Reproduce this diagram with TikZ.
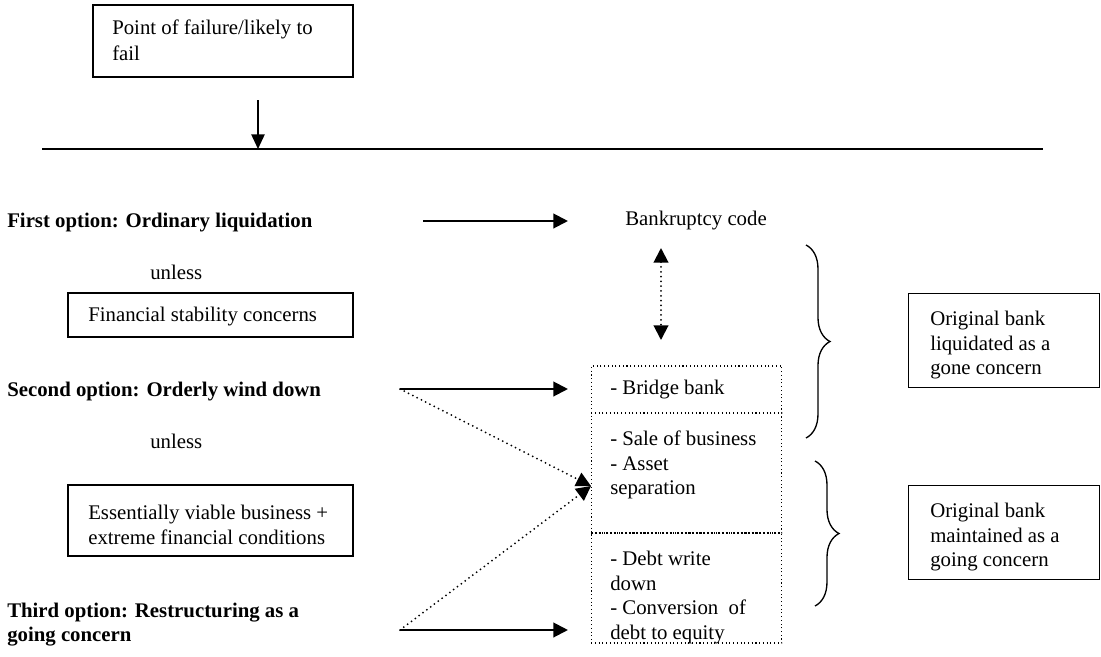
\documentclass[tikz,border=0pt]{standalone}
\usepackage{fontspec}
\setmainfont{Liberation Serif}
\usepackage{tikz}
\usetikzlibrary{arrows.meta}
\usetikzlibrary{decorations.pathreplacing}
\usetikzlibrary{positioning}

\tikzset{
	frame/.style={draw, line width=0.9pt, inner sep=0pt},
	section/.style={draw, line width=0.8pt, dotted, minimum width=143pt, inner sep=0pt},
	label/.style={inner sep=0pt, align=left},
	option/.style={label, font=\fontsize{15.6}{17.5}\selectfont\bfseries},
	solidarrow/.style={line width=1.6pt, -{Triangle[length=11pt, width=11pt]}},
	dotarrow/.style={line width=1.5pt, line cap=round, dash pattern=on 0pt off 3.6pt},
	curly/.style={decorate, line width=1pt, decoration={brace, amplitude=18pt}}
}

\begin{document}
\begin{tikzpicture}[x=0.75pt, y=-0.75pt, font=\fontsize{15.6}{18.4}\selectfont]
	\useasboundingbox (0,0) rectangle (1101,657);

	% Nodes
	\node[frame, minimum width=195pt, minimum height=54pt] (fail) at (223,41) {};
	\node[label, anchor=north west, font=\fontsize{15.6}{19.5}\selectfont] (failt) at (112,20) {Point of failure/likely to\\fail};

	\node[option, anchor=west] (first) at (7,223) {First option: Ordinary liquidation};
	\node[option, anchor=west] (second) at (7,392) {Second option: Orderly wind down};
	\node[option, anchor=north west] (third) at (7,603) {Third option: Restructuring as a\\going concern};

	\node[label, anchor=west] (unless1) at (150,272) {unless};
	\node[label, anchor=west] (unless2) at (150,441) {unless};

	\node[frame, minimum width=213.75pt, minimum height=33pt] (stability) at (210.5,315) {};
	\node[label, anchor=west] (stabilityt) at (88,317) {Financial stability concerns};
	\node[frame, minimum width=213.75pt, minimum height=53.25pt] (viable) at (210.5,520.5) {};
	\node[label, anchor=north west] (viablet) at (88,505) {Essentially viable business +\\extreme financial conditions};

	\node[label] (bank) at (696,221) {Bankruptcy code};

	\node[section, minimum height=35.25pt] (bridge) at (686.5,389.5) {};
	\node[section, minimum height=90pt] (sale) at (686.5,473) {};
	\node[section, minimum height=82.5pt] (debt) at (686.5,588) {};

	\node[label, anchor=west] (bridget) at (610,390) {- Bridge bank};
	\node[label, anchor=north west] (salet) at (610,431) {- Sale of business\\- Asset\\separation};
	\node[label, anchor=north west] (debtt) at (610,551) {- Debt write\\down\\- Conversion\ \ of\\debt to equity};

	\node[frame, minimum width=143pt, minimum height=71pt] (gone) at (1004,340.5) {};
	\node[label, anchor=north west] (gonet) at (930,311) {Original bank\\liquidated as a\\gone concern};
	\node[frame, minimum width=143pt, minimum height=71pt] (going) at (1004,532.5) {};
	\node[label, anchor=north west] (goingt) at (930,503) {Original bank\\maintained as a\\going concern};

	\coordinate (drop) at (258,100);
	\coordinate (line0) at (42,149);
	\coordinate (line1) at (1043,149);
	\coordinate (go1) at (423,221);
	\coordinate (go2) at (400,389);
	\coordinate (go3) at (400,630);
	\coordinate (up) at (661,248);
	\coordinate (down) at (661,340);
	\coordinate (meet) at (591,486);

	% Edges
	\draw[line width=0.9pt] (line0) -- (line1);
	\draw[line width=1.2pt, -{Triangle[length=11pt, width=10pt]}] (drop) -- (drop |- line0);
	\draw[solidarrow] (go1) -- ([xshift=-17pt]go1 -| bridge.west);
	\draw[solidarrow] (go2) -- ([xshift=-17pt]go2 -| bridge.west);
	\draw[solidarrow] (go3) -- ([xshift=-17pt]go3 -| bridge.west);
	\draw[dotarrow, {Triangle[length=11pt, width=11pt]}-{Triangle[length=11pt, width=11pt]}] (up) -- (down);
	\draw[dotarrow, -{Triangle[length=11pt, width=11pt]}] (go2) -- (meet);
	\draw[dotarrow, -{Triangle[length=11pt, width=11pt]}] (go3) -- (meet);

	\draw[curly] (806,245) -- (806,438);
	\draw[curly] (815,461) -- (815,606);
\end{tikzpicture}
\end{document}
